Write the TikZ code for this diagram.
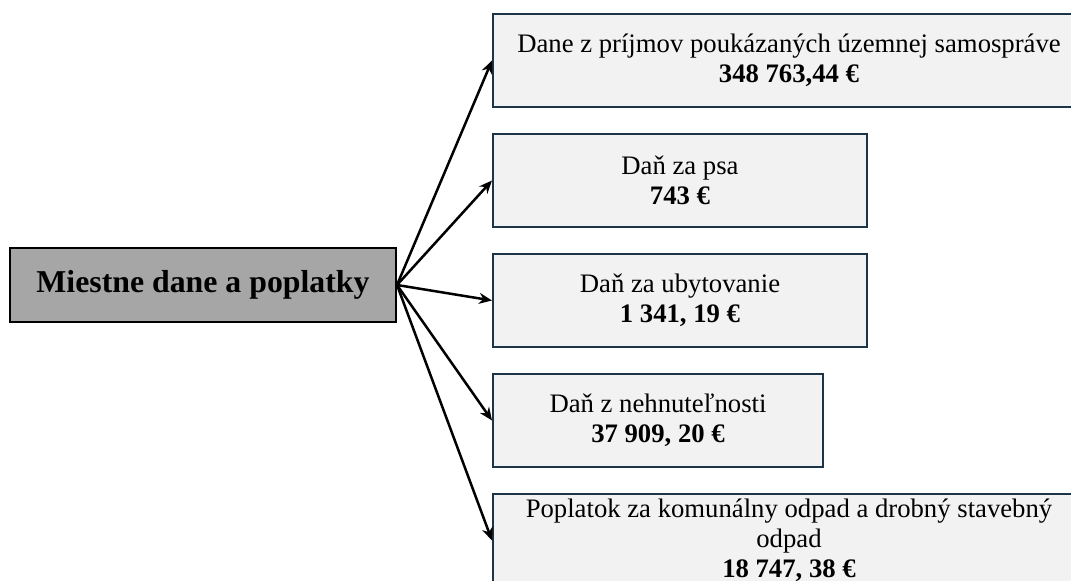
\documentclass[tikz,border=0pt]{standalone}
\usepackage{fontspec}
\setmainfont{Liberation Serif}
\usepackage{xcolor}
\usepackage{tikz}
\usetikzlibrary{positioning,arrows.meta}
\definecolor{boxedge}{RGB}{28,52,72}
\definecolor{boxfill}{RGB}{242,242,242}
\definecolor{mainfill}{RGB}{166,166,166}
\tikzset{
  mainbox/.style={draw=black, line width=1pt, fill=mainfill, align=center, minimum width=193pt, minimum height=37pt, font=\fontsize{15.9}{19}\selectfont\bfseries},
  itembox/.style={draw=boxedge, line width=1pt, fill=boxfill, align=center, minimum height=46.5pt, inner xsep=2pt, inner ysep=1pt, font=\fontsize{13.35}{15}\selectfont},
  arr/.style={-{Stealth[length=6.5pt, width=5.5pt]}, line width=1.25pt, draw=black},
}

\begin{document}
\begin{tikzpicture}
    \useasboundingbox (0,0) rectangle (535.5pt,-290.5pt);
    \node[mainbox] (M) at (101.5pt,-142.5pt) {Miestne dane a poplatky};
    \node[itembox, minimum width=296pt, anchor=north west] (P) at (246pt,-6.5pt) {Dane z príjmov poukázaných územnej samospráve\\ \textbf{348 763,44 €}};
    \node[itembox, minimum width=187pt, below=12.5pt of P.south west, anchor=north west] (S) {Daň za psa\\ \textbf{743 €}};
    \node[itembox, minimum width=187pt, below=12.5pt of S.south west, anchor=north west] (U) {Daň za ubytovanie\\ \textbf{1 341, 19 €}};
    \node[itembox, minimum width=165pt, below=12.5pt of U.south west, anchor=north west] (N) {Daň z nehnuteľnosti\\ \textbf{37 909, 20 €}};
    \node[itembox, minimum width=296pt, below=12.5pt of N.south west, anchor=north west] (O) {Poplatok za komunálny odpad a drobný stavebný\\ odpad\\ \textbf{18 747, 38 €}};
    \draw[arr] (M.east) -- (P.west);
    \draw[arr] (M.east) -- (S.west);
    \draw[arr] (M.east) -- (U.west);
    \draw[arr] (M.east) -- (N.west);
    \draw[arr] (M.east) -- (O.west);
  \end{tikzpicture}
\end{document}
